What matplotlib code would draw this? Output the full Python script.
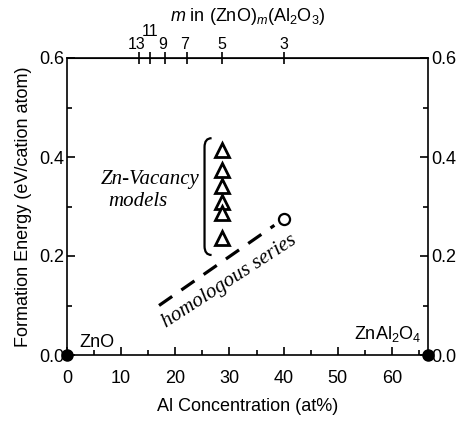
import matplotlib
matplotlib.use("Agg")
import matplotlib.pyplot as plt
from matplotlib.path import Path
from matplotlib.patches import PathPatch

plt.rcParams['font.family'] = ['Liberation Sans', 'DejaVu Sans']
plt.rcParams['mathtext.fontset'] = 'custom'
plt.rcParams['mathtext.rm'] = 'Liberation Sans'
plt.rcParams['mathtext.it'] = 'Liberation Sans:italic'

# Data
end_x = [0.0, 66.67]
end_y = [0.0, 0.0]
end_labels = ["ZnO", "ZnAl$_2$O$_4$"]

vac_x = [28.57] * 6
vac_y = [0.414, 0.374, 0.341, 0.309, 0.287, 0.236]

homo_x = [40.0]
homo_y = [0.275]

dash_x = [17.0, 38.3]
dash_y = [0.10, 0.262]

m_values = [13, 11, 9, 7, 5, 3]
m_positions = [200.0 / (m + 2) for m in m_values]

fig = plt.figure(figsize=(4.62, 4.21), dpi=100)
ax = fig.add_axes([67/462, 1 - 355/421, (428-67)/462, (355-58)/421])

ax.set_xlim(0, 66.67)
ax.set_ylim(0, 0.6)

ax.plot(dash_x, dash_y, color='black', lw=2.3, dashes=(5, 3.5), solid_capstyle='butt')
ax.plot(vac_x, vac_y, linestyle='none', marker='^', ms=10, mfc='white', mec='black', mew=2)
ax.plot(homo_x, homo_y, linestyle='none', marker='o', ms=8, mfc='white', mec='black', mew=1.6)
ax.plot(end_x, end_y, linestyle='none', marker='o', ms=8, color='black', clip_on=False, zorder=5)

# bracket
x0, x1 = 25.4, 26.7
yt, yb = 0.438, 0.202
e = 0.018
verts = [(x1, yt), (x0, yt), (x0, yt - e), (x0, yb + e), (x0, yb), (x1, yb)]
codes = [Path.MOVETO, Path.CURVE3, Path.CURVE3, Path.LINETO, Path.CURVE3, Path.CURVE3]
ax.add_patch(PathPatch(Path(verts, codes), fill=False, lw=1.6, edgecolor='black'))

serif = ['Liberation Serif', 'DejaVu Serif']
ax.text(6.2, 0.355, "Zn-Vacancy", family=serif, style='italic', fontsize=15, ha='left', va='center')
ax.text(7.6, 0.31, "models", family=serif, style='italic', fontsize=15, ha='left', va='center')
ax.text(29.9, 0.149, "homologous series", family=serif, style='italic', fontsize=15,
        ha='center', va='center', rotation=33, rotation_mode='anchor')

ax.text(2.3, 0.026, end_labels[0], fontsize=13, ha='left', va='center')
ax.text(65.4, 0.042, end_labels[1], fontsize=13, ha='right', va='center')

ax.set_xticks([0, 10, 20, 30, 40, 50, 60])
ax.set_xticks([5, 15, 25, 35, 45, 55, 65], minor=True)
ax.set_yticks([0.0, 0.2, 0.4, 0.6])
ax.set_yticklabels(["0.0", "0.2", "0.4", "0.6"])
ax.set_yticks([0.1, 0.3, 0.5], minor=True)
ax.tick_params(axis='both', which='major', direction='in', length=6, width=1.2, labelsize=13,
               top=False, right=True, labelright=True)
ax.tick_params(axis='both', which='minor', direction='in', length=3.5, width=1.2,
               top=False, right=True)
ax.tick_params(axis='y', pad=2)
ax.tick_params(axis='x', pad=11)
for s in ax.spines.values():
    s.set_linewidth(1.2)

ax.set_xlabel("Al Concentration (at%)", fontsize=13, labelpad=8)
ax.set_ylabel("Formation Energy (eV/cation atom)", fontsize=13, labelpad=5)

top = ax.secondary_xaxis('top')
top.set_xticks(m_positions)
top.set_xticklabels([""] * len(m_values))
top.tick_params(direction='inout', length=9, width=1.2, labelsize=11, pad=2)
for pos, m in zip(m_positions, m_values):
    yy = 1.075 if m == 11 else 1.03
    xx = pos - 0.5 if m in (13, 9, 7) else pos
    ax.text(xx, yy, str(m), transform=ax.get_xaxis_transform(), fontsize=11.5,
            ha='center', va='baseline', clip_on=False)
ax.text(0.5, 1.125, r"$\mathit{m}$ in (ZnO)$_{\mathit{m}}$(Al$_2$O$_3$)", fontsize=13,
        transform=ax.transAxes, ha='center', va='baseline', clip_on=False)

fig.savefig("out.png", dpi=100)
